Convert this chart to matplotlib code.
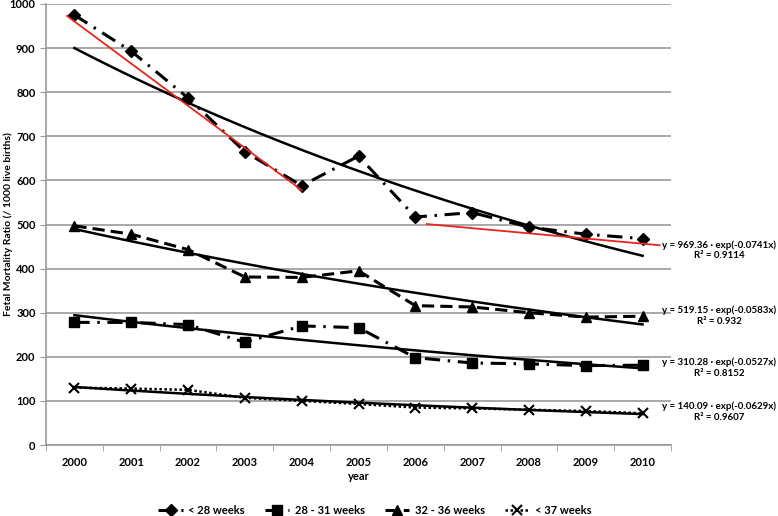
import numpy as np
import matplotlib.pyplot as plt
from matplotlib.lines import Line2D

plt.rcParams['font.family'] = ['Lato', 'DejaVu Sans']
plt.rcParams['font.weight'] = 'bold'

years = ['2000', '2001', '2002', '2003', '2004', '2005', '2006', '2007', '2008', '2009', '2010']
lt28 = [975, 893, 787, 665, 588, 655, 517, 527, 494, 478, 468]
w28_31 = [278, 278, 273, 233, 270, 266, 198, 186, 184, 180, 181]
w32_36 = [497, 478, 443, 381, 380, 395, 316, 313, 300, 290, 292]
lt37 = [130, 128, 125, 107, 100, 93, 85, 83, 80, 77, 72]

# exponential trend coefficients (y = a * exp(b * x), x = 1..11)
trend_a = [969.36, 519.15, 310.28, 140.09]
trend_b = [-0.0741, -0.0583, -0.0527, -0.0629]
trend_r2 = ['0.9114', '0.932', '0.8152', '0.9607']

# red segment lines (x in category units, 0 = 2000)
red1_x = [-0.13, 4.0]
red1_y = [973, 578]
red2_x = [6.2, 10.3]
red2_y = [501, 453]

fig = plt.figure(figsize=(7.78, 5.16), dpi=100)
ax = fig.add_axes([46/778, 1-445/516, 625/778, 441/516])

x = np.arange(len(years))
grey = '#9a9a9a'

ax.plot(x, lt28, color='black', lw=2.2, dashes=(5, 2.5, 0.8, 2.5), marker='D', ms=6)
ax.plot(x, w28_31, color='black', lw=2.2, dashes=(5, 2.5, 0.8, 2.5), marker='s', ms=7)
ax.plot(x, w32_36, color='black', lw=2.2, dashes=(4, 2), marker='^', ms=7)
ax.plot(x, lt37, color='black', lw=1.8, dashes=(1, 1), marker='x', ms=7, mew=1.5)

xs = np.linspace(0, 10, 100)
for a, b in zip(trend_a, trend_b):
    ax.plot(xs, a * np.exp(b * (xs + 1)), color='black', lw=1.8)

ax.plot(red1_x, red1_y, color='#e8251c', lw=1.3)
ax.plot(red2_x, red2_y, color='#e8251c', lw=1.3)

ax.set_xlim(-0.5, 10.5)
ax.set_ylim(0, 1000)
ax.set_yticks(range(0, 1001, 100))
ax.set_xticks(x)
ax.set_xticklabels(years)
ax.set_xticks(np.arange(-0.5, 11, 1), minor=True)
ax.tick_params(axis='x', which='major', length=0, pad=9, labelsize=8)
ax.tick_params(axis='x', which='minor', length=4, color=grey)
ax.tick_params(axis='y', length=4, color=grey, labelsize=8)
ax.yaxis.grid(True, color=grey, lw=1.2)
ax.set_axisbelow(True)
for s in ['top', 'right']:
    ax.spines[s].set_visible(False)
for s in ['left', 'bottom']:
    ax.spines[s].set_color(grey)
    ax.spines[s].set_linewidth(1.2)

ax.set_ylabel('Fetal Mortality Ratio (/ 1000 live births)', fontsize=7.5, fontweight='bold')
ax.yaxis.set_label_coords(-33/625, 0.5)
ax.set_xlabel('year', fontsize=8, fontweight='bold', labelpad=2)

eq_y = [245, 310, 362, 406]
for a, b, r2, py in zip(trend_a, trend_b, trend_r2, eq_y):
    fig.text(719/778, 1-py/516, f'y = {a:.2f} · exp({b}x)', ha='center', va='center',
             fontsize=7, fontweight='bold')
    fig.text(719/778, 1-(py+11)/516, f'R² = {r2}', ha='center', va='center',
             fontsize=7, fontweight='bold')

handles = [
    Line2D([], [], color='black', lw=2.2, dashes=(5, 2.5, 0.8, 2.5), marker='D', ms=6),
    Line2D([], [], color='black', lw=2.2, dashes=(5, 2.5, 0.8, 2.5), marker='s', ms=7),
    Line2D([], [], color='black', lw=2.2, dashes=(4, 2), marker='^', ms=7),
    Line2D([], [], color='black', lw=1.8, dashes=(1, 1), marker='x', ms=7, mew=1.5),
]
labels = ['< 28 weeks', '28 - 31 weeks', '32 - 36 weeks', '< 37 weeks']
fig.legend(handles, labels, loc='lower center', bbox_to_anchor=(0.482, -0.02), ncol=4,
           frameon=False, fontsize=8, handlelength=2.2, handletextpad=0.5, columnspacing=1.8)

fig.savefig('out.png', dpi=100)
